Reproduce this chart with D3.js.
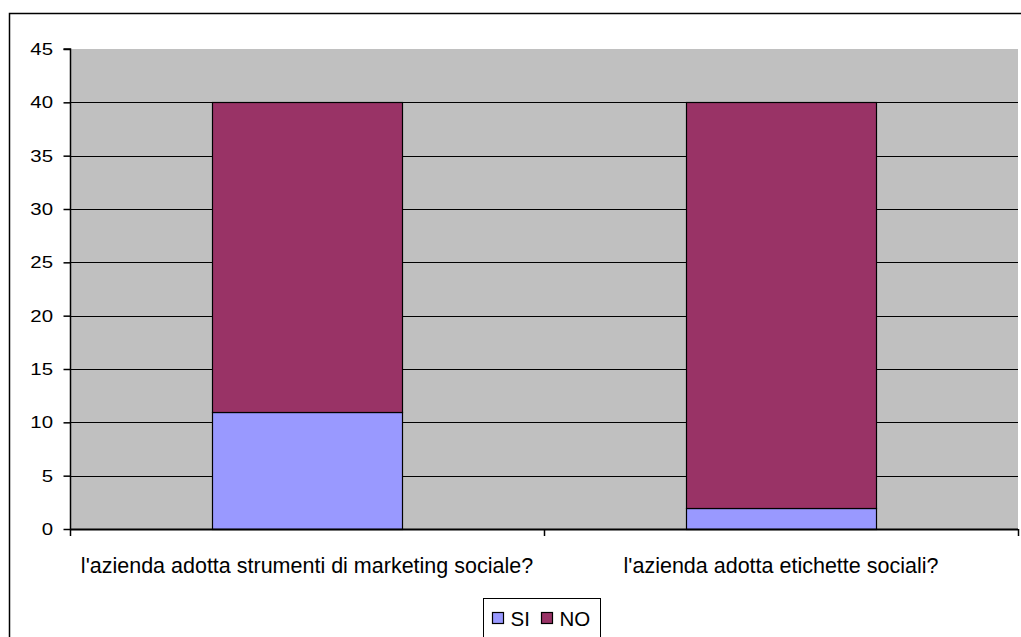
<!DOCTYPE html>
<html>
<head>
<meta charset="utf-8">
<script src="https://cdn.jsdelivr.net/npm/d3@7"></script>
<style>
  html, body { margin: 0; padding: 0; background: #fff; }
  svg { display: block; }
</style>
</head>
<body>
<svg id="chart" width="1021" height="637"></svg>
<script>
const categories = ["l'azienda adotta strumenti di marketing sociale?", "l'azienda adotta etichette sociali?"];
const seriesNames = ["SI", "NO"];
const siValues = [11, 2];
const noValues = [29, 38];
const yTicks = [0, 5, 10, 15, 20, 25, 30, 35, 40, 45];
const colors = ["#9999FF", "#993366"];

const svg = d3.select("#chart");
const font = "Arial, 'Liberation Sans', sans-serif";

// outer frame
svg.append("rect").attr("x", 9.5).attr("y", 13.5).attr("width", 1030).attr("height", 640)
  .attr("fill", "none").attr("stroke", "#000").attr("stroke-width", 1.5);

const pL = 70, pR = 1018, pT = 49, pB = 529;

const x = d3.scaleBand().domain(categories).range([pL, pR]).paddingInner(0.6).paddingOuter(0.3);
const xTickScale = d3.scaleLinear().domain([0, categories.length]).range([pL, pR]);
const y = d3.scaleLinear().domain([0, 45]).range([pB, pT]);

// plot background
svg.append("rect").attr("x", pL).attr("y", pT).attr("width", pR - pL).attr("height", pB - pT)
  .attr("fill", "#C0C0C0");

// gridlines
svg.append("g").selectAll("line").data(yTicks.filter(d => d > 0 && d < 45)).join("line")
  .attr("x1", pL).attr("x2", pR)
  .attr("y1", d => Math.round(y(d)) + 0.5).attr("y2", d => Math.round(y(d)) + 0.5)
  .attr("stroke", "#000").attr("stroke-width", 1);

// stacked bars
const data = categories.map((c, i) => ({ cat: c, SI: siValues[i], NO: noValues[i] }));
const stack = d3.stack().keys(seriesNames)(data);
svg.append("g").selectAll("g").data(stack).join("g")
  .attr("fill", (d, i) => colors[i])
  .selectAll("rect").data(d => d).join("rect")
  .attr("x", d => Math.round(x(d.data.cat)) + 0.5)
  .attr("width", Math.round(x.bandwidth()))
  .attr("y", d => Math.round(y(d[1])) + 0.5)
  .attr("height", d => Math.round(y(d[0])) - Math.round(y(d[1])))
  .attr("stroke", "#000").attr("stroke-width", 1.2);

// y axis
const yAxis = d3.axisLeft(y).tickValues(yTicks).tickSize(7).tickPadding(10);
const gy = svg.append("g").attr("transform", `translate(${pL + 0.5},0)`).call(yAxis);
gy.select(".domain").attr("stroke", "#000").attr("stroke-width", 1.5).attr("d", `M-7,${pT}H0V${pB}`);
gy.selectAll(".tick line").attr("stroke-width", 1.5);
gy.selectAll("text").attr("font-family", font).attr("font-size", 17).attr("fill", "#000")
  .attr("x", -17.5 / 1.2).attr("transform", "scale(1.2,1)");

// x axis line
svg.append("line").attr("x1", pL).attr("x2", pR).attr("y1", pB + 0.5).attr("y2", pB + 0.5)
  .attr("stroke", "#000").attr("stroke-width", 2);
// category separator ticks
svg.append("g").selectAll("line").data(d3.range(categories.length + 1)).join("line")
  .attr("x1", d => Math.round(xTickScale(d)) + 0.5).attr("x2", d => Math.round(xTickScale(d)) + 0.5)
  .attr("y1", pB).attr("y2", pB + 7)
  .attr("stroke", "#000").attr("stroke-width", 1.5);
// category labels
svg.append("g").selectAll("text").data(categories).join("text")
  .attr("x", d => x(d) + x.bandwidth() / 2)
  .attr("y", 573)
  .attr("text-anchor", "middle")
  .attr("font-family", font).attr("font-size", 21.5).attr("fill", "#000")
  .text(d => d);

// legend
const lg = svg.append("g");
lg.append("rect").attr("x", 483.5).attr("y", 598.5).attr("width", 117).attr("height", 45)
  .attr("fill", "#fff").attr("stroke", "#000").attr("stroke-width", 1);
const legendItems = [{ name: "SI", sx: 492, tx: 510.5 }, { name: "NO", sx: 541, tx: 559.5 }];
legendItems.forEach((it, i) => {
  lg.append("rect").attr("x", it.sx + 0.5).attr("y", 612.5).attr("width", 11).attr("height", 11)
    .attr("fill", colors[i]).attr("stroke", "#000").attr("stroke-width", 1.2);
  lg.append("text").attr("x", it.tx).attr("y", 626)
    .attr("font-family", font).attr("font-size", 20.5).attr("fill", "#000").text(it.name);
});
</script>
</body>
</html>
